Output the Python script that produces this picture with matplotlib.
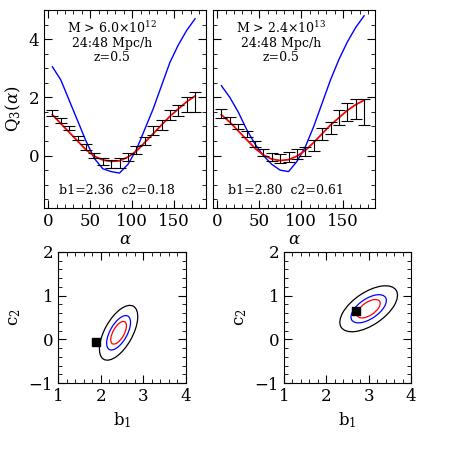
import numpy as np
import matplotlib
matplotlib.use('Agg')
import matplotlib.pyplot as plt
from matplotlib.patches import Ellipse
from matplotlib.ticker import MultipleLocator

plt.rcParams['font.family'] = ['DejaVu Serif']
plt.rcParams['mathtext.fontset'] = 'dejavuserif'

alpha = np.arange(5, 180, 10)
# panneau gauche
q_left = [1.45, 1.2, 0.95, 0.6, 0.3, 0.0, -0.2, -0.3, -0.25, -0.05, 0.2, 0.5, 0.85, 1.05, 1.4, 1.55, 1.75, 1.85]
err_left = [0.1, 0.08, 0.08, 0.08, 0.1, 0.1, 0.12, 0.14, 0.16, 0.15, 0.14, 0.14, 0.15, 0.16, 0.18, 0.2, 0.25, 0.35]
fit_left = [1.4, 1.1, 0.8, 0.5, 0.2, -0.02, -0.15, -0.2, -0.18, -0.05, 0.15, 0.45, 0.75, 1.05, 1.35, 1.6, 1.85, 2.05]
dm_left = [3.05, 2.6, 1.9, 1.2, 0.5, -0.1, -0.45, -0.55, -0.6, -0.3, 0.2, 0.9, 1.6, 2.4, 3.2, 3.8, 4.3, 4.7]
# panneau droit
q_right = [1.45, 1.2, 1.0, 0.75, 0.4, 0.1, -0.05, -0.1, -0.05, 0.05, 0.15, 0.35, 0.75, 0.95, 1.3, 1.5, 1.6, 1.5]
err_right = [0.15, 0.12, 0.1, 0.1, 0.1, 0.12, 0.14, 0.15, 0.16, 0.16, 0.16, 0.18, 0.2, 0.22, 0.25, 0.3, 0.35, 0.45]
fit_right = [1.4, 1.15, 0.85, 0.55, 0.25, 0.02, -0.12, -0.17, -0.14, -0.02, 0.18, 0.45, 0.75, 1.05, 1.3, 1.55, 1.75, 1.9]
dm_right = [2.4, 2.0, 1.5, 0.9, 0.4, 0.0, -0.3, -0.5, -0.55, -0.2, 0.3, 1.0, 1.8, 2.6, 3.3, 3.9, 4.4, 4.8]

labels_top = [r"M > 6.0$\times$10$^{12}$", r"M > 2.4$\times$10$^{13}$"]
fit_text = ["b1=2.36  c2=0.18", "b1=2.80  c2=0.61"]

# contours (centre, best fit, ellipses (largeur, hauteur, angle))
centers = [(2.42, 0.15), (3.0, 0.7)]
best = [(1.9, -0.05), (2.7, 0.65)]
ell_left = [(1.4, 0.65, 60, 'black'), (0.88, 0.4, 60, 'blue'), (0.58, 0.26, 60, 'red')]
ell_right = [(1.55, 0.75, 33, 'black'), (0.95, 0.46, 33, 'blue'), (0.62, 0.3, 33, 'red')]

W = 463
fig = plt.figure(figsize=(4.63, 4.63), dpi=100)

def box(x0, y0, x1, y1):
    return [x0 / W, 1 - y1 / W, (x1 - x0) / W, (y1 - y0) / W]

def style(ax):
    ax.tick_params(which='both', direction='in', top=True, right=True, labelsize=12)
    ax.tick_params(which='major', length=6)
    ax.tick_params(which='minor', length=3)

tops = [box(44, 10, 206, 208), box(213, 10, 375, 208)]
data = [(q_left, err_left, fit_left, dm_left), (q_right, err_right, fit_right, dm_right)]
for i, (pos, (q, e, f, d)) in enumerate(zip(tops, data)):
    ax = fig.add_axes(pos)
    ax.plot(alpha, d, color='blue', lw=1)
    ax.plot(alpha, f, color='red', lw=1.3)
    ax.errorbar(alpha, q, yerr=e, fmt='none', ecolor='black', elinewidth=0.8, capsize=4, capthick=0.8)
    ax.set_xlim(-5, 188)
    ax.set_ylim(-1.8, 5.0)
    ax.xaxis.set_major_locator(MultipleLocator(50))
    ax.xaxis.set_minor_locator(MultipleLocator(10))
    ax.yaxis.set_major_locator(MultipleLocator(2))
    ax.yaxis.set_minor_locator(MultipleLocator(0.5))
    style(ax)
    ax.set_xlabel(r'$\alpha$', fontsize=12, labelpad=1)
    if i == 0:
        ax.set_ylabel(r'Q$_3$($\alpha$)', fontsize=12)
    else:
        ax.set_yticklabels([])
    ax.text(0.42, 0.95, labels_top[i] + "\n24:48 Mpc/h\nz=0.5", transform=ax.transAxes,
            ha='center', va='top', fontsize=9, linespacing=1.1)
    ax.text(0.45, 0.07, fit_text[i], transform=ax.transAxes, ha='center', fontsize=9)

bots = [box(58, 252, 186, 383), box(284, 252, 411, 383)]
for i, pos in enumerate(bots):
    ax = fig.add_axes(pos)
    for w, h, ang, c in (ell_left if i == 0 else ell_right):
        ax.add_patch(Ellipse(centers[i], w, h, angle=ang, fill=False, edgecolor=c, lw=0.9))
    ax.plot(*best[i], 's', color='black', ms=6)
    ax.set_xlim(1, 4)
    ax.set_ylim(-1, 2)
    ax.xaxis.set_major_locator(MultipleLocator(1))
    ax.xaxis.set_minor_locator(MultipleLocator(0.2))
    ax.yaxis.set_major_locator(MultipleLocator(1))
    ax.yaxis.set_minor_locator(MultipleLocator(0.2))
    style(ax)
    ax.set_xlabel(r'b$_1$', fontsize=12)
    ax.set_ylabel(r'c$_2$', fontsize=12)

fig.savefig('out.png', dpi=100)
